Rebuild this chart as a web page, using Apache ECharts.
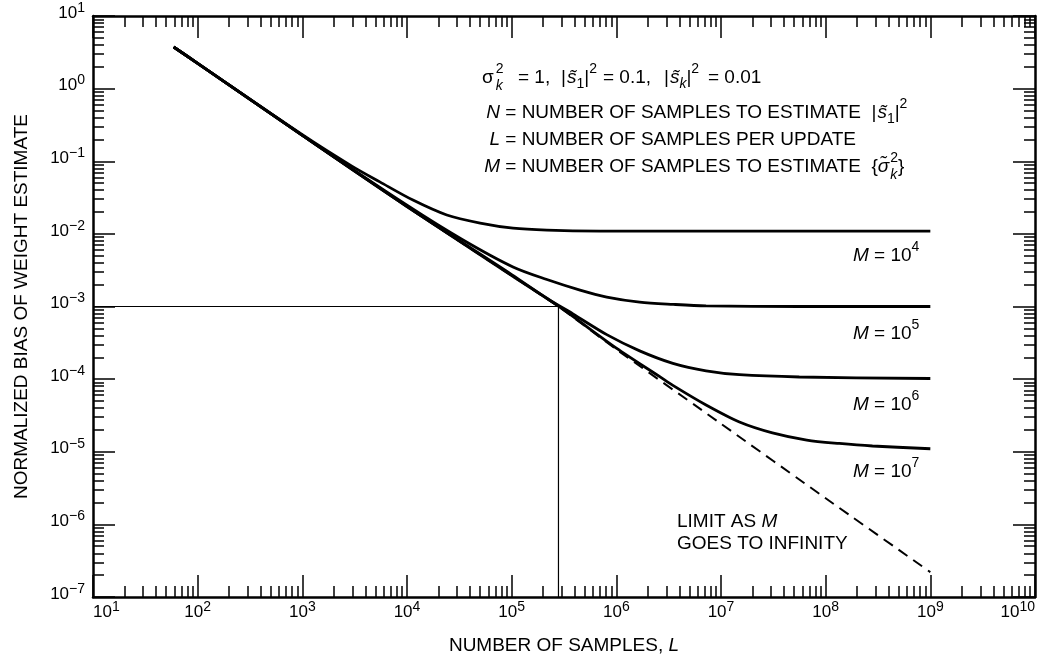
<!DOCTYPE html>
<html><head><meta charset="utf-8">
<script src="https://cdn.jsdelivr.net/npm/echarts@6/dist/echarts.min.js"></script>
<style>html,body{margin:0;padding:0;background:#fff}#c{width:1040px;height:661px}</style>
</head><body><div id="c"></div>
<script>
// ---------------- data ----------------
const limitL = [59, 100, 1e3, 1e4, 1e5, 2.8e5, 1e6, 1e7, 1e8, 1e9];
const limitY = [3.74, 2.23, 0.227, 0.0238, 0.00265, 0.00100, 2.57e-4, 2.43e-5, 2.29e-6, 2.2e-7];

const m4L = [59, 100, 1e3, 3e3, 5.5e3, 1.14e4, 2.4e4, 5e4, 1.03e5, 2.17e5, 7e5, 1e7, 1e9];
const m4Y = [3.74, 2.23, 0.232, 0.085, 0.052, 0.0292, 0.0182, 0.0141, 0.0120, 0.01127, 0.01094, 0.0109, 0.0109];

const m5L = [59, 100, 1e3, 1e4, 3.4e4, 1.03e5, 2.17e5, 4.5e5, 8.1e5, 1.67e6, 3.5e6, 7.2e6, 5.6e7, 1e9];
const m5Y = [3.74, 2.23, 0.227, 0.0248, 0.0083, 0.0035, 0.00235, 0.00168, 0.00135, 0.00115, 0.00107, 0.00102, 0.00100, 0.00100];

const m6L = [59, 100, 1e3, 1e4, 1e5, 2.2e5, 3.85e5, 8.1e5, 1.67e6, 3.47e6, 7.2e6, 1.5e7, 5.6e7, 1e9];
const m6Y = [3.74, 2.23, 0.227, 0.0238, 0.00275, 0.00128, 7.9e-4, 4.1e-4, 2.45e-4, 1.65e-4, 1.3e-4, 1.15e-4, 1.07e-4, 1.02e-4];

const m7L = [59, 100, 1e3, 1e4, 1e5, 2.8e5, 1e6, 2.6e6, 3.47e6, 7.2e6, 1.5e7, 3.1e7, 6.6e7, 1.35e8, 2.8e8, 1e9];
const m7Y = [3.74, 2.23, 0.227, 0.0238, 0.00266, 0.00101, 2.67e-4, 1.08e-4, 8.2e-5, 4.4e-5, 2.57e-5, 1.82e-5, 1.45e-5, 1.3e-5, 1.2e-5, 1.1e-5];

// reference lines (operating point L = 2.8e5, bias = 1e-3)
const refHL = [10, 2.8e5], refHY = [1e-3, 1e-3];
const refVL = [2.8e5, 2.8e5], refVY = [1e-7, 1e-3];

// axis tick values
const xMajor = [1e1, 1e2, 1e3, 1e4, 1e5, 1e6, 1e7, 1e8, 1e9, 1e10];
const yMajor = [1e-7, 1e-6, 1e-5, 1e-4, 1e-3, 1e-2, 1e-1, 1e0, 1e1];
// --------------------------------------------------------------

const FONT = '"Liberation Sans", Arial, Helvetica, sans-serif';
function minorOf(majors) {
  const out = [];
  for (let i = 0; i < majors.length - 1; i++)
    for (let k = 2; k <= 9; k++) out.push(+(k * majors[i]).toPrecision(6));
  return out;
}
const xMinor = minorOf(xMajor), yMinor = minorOf(yMajor);
const pairs = (a, b) => a.map((v, i) => [v, b[i]]);

const supFmt = v => {
  const e = Math.round(Math.log10(v));
  return '{b|10}{s|' + (e < 0 ? '\u2212' + (-e) : e) + '}';
};
const labRich = {
  b: { fontSize: 17, fontFamily: FONT, color: '#000', lineHeight: 24 },
  s: { fontSize: 14, fontFamily: FONT, color: '#000', verticalAlign: 'top' }
};

const frame = { show: true, onZero: false, lineStyle: { color: '#000', width: 2.5 } };
function xAx(pos, ticks, len, withLabels, extra) {
  return Object.assign({
    type: 'log', logBase: 10, min: 10, max: 1e10, position: pos, gridIndex: 0,
    axisLine: withLabels !== null ? frame : { show: false },
    axisTick: { show: true, inside: true, length: len, customValues: ticks, lineStyle: { color: '#000', width: 1.5 } },
    axisLabel: withLabels ? { show: true, customValues: xMajor, formatter: supFmt, rich: labRich, margin: 3,
      alignMinLabel: 'left', alignMaxLabel: 'right' } : { show: false },
    splitLine: { show: false }, minorTick: { show: false }
  }, extra || {});
}
function yAx(pos, ticks, len, withLabels, extra) {
  return Object.assign({
    type: 'log', logBase: 10, min: 1e-7, max: 10, position: pos, gridIndex: 0,
    axisLine: withLabels !== null ? frame : { show: false },
    axisTick: { show: true, inside: true, length: len, customValues: ticks, lineStyle: { color: '#000', width: 1.5 } },
    axisLabel: withLabels ? { show: true, customValues: yMajor, formatter: supFmt, rich: labRich, margin: 8,
      padding: [0, 0, 6, 0] } : { show: false },
    splitLine: { show: false }, minorTick: { show: false }
  }, extra || {});
}

const xAxes = [
  xAx('bottom', xMajor, 22, true, {
    name: 'NUMBER OF SAMPLES, {i|L}', nameLocation: 'middle', nameGap: 39,
    nameTextStyle: { fontSize: 19, fontFamily: FONT, color: '#000',
      rich: { i: { fontSize: 19, fontFamily: FONT, fontStyle: 'italic', color: '#000' } } }
  }),
  xAx('bottom', xMinor, 11, null),
  xAx('top', xMajor, 22, false),
  xAx('top', xMinor, 11, null)
];
const yAxes = [
  yAx('left', yMajor, 22, true, {
    name: 'NORMALIZED BIAS OF WEIGHT ESTIMATE', nameLocation: 'middle', nameGap: 62,
    nameTextStyle: { fontSize: 19, fontFamily: FONT, color: '#000' }
  }),
  yAx('left', yMinor, 11, null),
  yAx('right', yMajor, 22, false),
  yAx('right', yMinor, 11, null)
];

// ---------- annotation text layout (measured with canvas) ----------
const ctx = document.createElement('canvas').getContext('2d');
function fontStr(size, it) { return (it ? 'italic ' : '') + size + 'px ' + FONT; }
function measure(t, size, it) { ctx.font = fontStr(size, it); return ctx.measureText(t).width; }
function txt(x, y, t, size, it, align) {
  return { type: 'text', x: x, y: y, silent: true,
    style: { text: t, font: fontStr(size, it), fill: '#000',
      textAlign: align || 'left', align: align || 'left', textVerticalAlign: 'middle', verticalAlign: 'middle' } };
}
function flow(x, y, segs) {
  const els = [];
  segs.forEach(sg => {
    if (sg.stack) {
      let w = 0;
      sg.stack.forEach(p => { els.push(txt(x, y + p.dy, p.t, p.s, p.it)); w = Math.max(w, measure(p.t, p.s, p.it)); });
      x += w + (sg.pad || 0);
    } else {
      els.push(txt(x, y + (sg.dy || 0), sg.t, sg.s, sg.it));
      x += measure(sg.t, sg.s, sg.it) + (sg.pad || 0);
    }
  });
  return els;
}
const S = 19, SS = 14;
const stilde = 's\u0303';
const absSq = (sub) => [
  { t: '|', s: S, pad: 1 },
  { t: stilde, s: S, it: true },
  { t: sub, s: SS, it: sub === 'k', dy: 6 },
  { t: '|', s: S },
  { t: '2', s: SS, dy: -9 }
];
const graphics = [].concat(
  // line 1
  flow(482, 78, [
    { t: '\u03c3', s: S, pad: 2 },
    { stack: [{ t: '2', s: SS, dy: -9 }, { t: 'k', s: SS, it: true, dy: 8 }] }
  ]),
  flow(518, 78, [{ t: '= 1,', s: S }]),
  flow(561, 78, absSq('1')),
  flow(603, 78, [{ t: '= 0.1,', s: S }]),
  flow(664, 78, absSq('k')),
  flow(708, 78, [{ t: '= 0.01', s: S }]),
  // line 2
  [txt(500, 113, 'N', S, true, 'right')],
  flow(500, 113, [{ t: ' = NUMBER OF SAMPLES TO ESTIMATE  ', s: S }].concat(absSq('1'))),
  // line 3
  [txt(500, 140, 'L', S, true, 'right')],
  flow(500, 140, [{ t: ' = NUMBER OF SAMPLES PER UPDATE', s: S }]),
  // line 4
  [txt(500, 167, 'M', S, true, 'right')],
  flow(500, 167, [
    { t: ' = NUMBER OF SAMPLES TO ESTIMATE  {', s: S },
    { t: '\u03c3\u0303', s: S, it: true, pad: 1 },
    { stack: [{ t: '2', s: SS, dy: -9 }, { t: 'k', s: SS, it: true, dy: 8 }] },
    { t: '}', s: S }
  ]),
  // curve labels
  flow(853, 256, [{ t: 'M', s: S, it: true }, { t: ' = 10', s: S }, { t: '4', s: SS, dy: -9 }]),
  flow(853, 334, [{ t: 'M', s: S, it: true }, { t: ' = 10', s: S }, { t: '5', s: SS, dy: -9 }]),
  flow(853, 405, [{ t: 'M', s: S, it: true }, { t: ' = 10', s: S }, { t: '6', s: SS, dy: -9 }]),
  flow(853, 472, [{ t: 'M', s: S, it: true }, { t: ' = 10', s: S }, { t: '7', s: SS, dy: -9 }]),
  flow(677, 522, [{ t: 'LIMIT AS ', s: S }, { t: 'M', s: S, it: true }]),
  flow(677, 544, [{ t: 'GOES TO INFINITY', s: S }])
);

const solid = { color: '#000', width: 2.8 };
const sm = 0.3;
const chart = echarts.init(document.getElementById('c'), null, { renderer: 'canvas' });
chart.setOption({
  animation: false,
  backgroundColor: '#fff',
  grid: { left: 93, right: 5, top: 16, bottom: 64, containLabel: false },
  xAxis: xAxes,
  yAxis: yAxes,
  series: [
    { type: 'line', name: 'limit', data: pairs(limitL, limitY), smooth: 0.15, symbol: 'none',
      lineStyle: { color: '#000', width: 2, type: [11, 7] }, z: 2 },
    { type: 'line', name: 'M=1e4', data: pairs(m4L, m4Y), smooth: sm, symbol: 'none', lineStyle: solid, z: 3 },
    { type: 'line', name: 'M=1e5', data: pairs(m5L, m5Y), smooth: sm, symbol: 'none', lineStyle: solid, z: 3 },
    { type: 'line', name: 'M=1e6', data: pairs(m6L, m6Y), smooth: sm, symbol: 'none', lineStyle: solid, z: 3 },
    { type: 'line', name: 'M=1e7', data: pairs(m7L, m7Y), smooth: sm, symbol: 'none', lineStyle: solid, z: 3 },
    { type: 'line', name: 'refH', data: pairs(refHL, refHY), symbol: 'none', lineStyle: { color: '#000', width: 1.2 }, z: 1 },
    { type: 'line', name: 'refV', data: pairs(refVL, refVY), symbol: 'none', lineStyle: { color: '#000', width: 1.2 }, z: 1 }
  ],
  graphic: { elements: graphics }
});
</script>
</body></html>
